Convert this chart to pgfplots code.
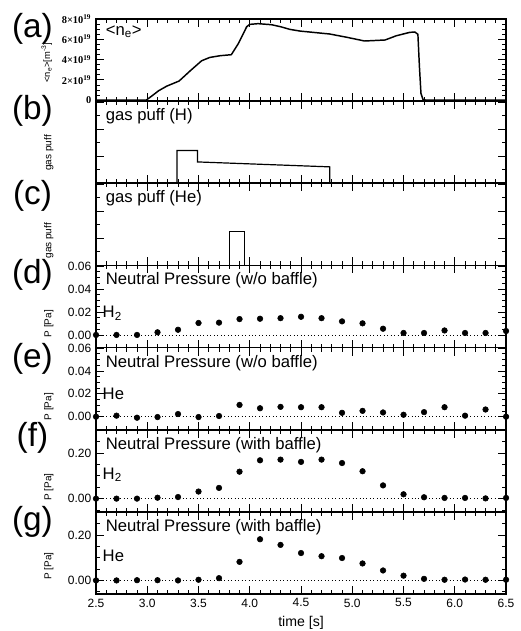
\documentclass[border=0pt]{standalone}
\usepackage{fontspec}
\setmainfont{Liberation Sans}
\newfontfamily\serifb{Liberation Serif}
\usepackage{pgfplots}
\pgfplotsset{compat=1.18}
\usepgfplotslibrary{groupplots}

\newcommand\tl{\serifb\bfseries\fontsize{7.8}{8}\selectfont}
\tikzset{
  plab/.style={font=\fontsize{25}{27}\selectfont},
  intxt/.style={anchor=north west, inner sep=1pt, font=\fontsize{12.5}{14}\selectfont},
  gtxt/.style={anchor=west, inner sep=1pt, font=\fontsize{12.5}{14}\selectfont},
}

\begin{document}
\begin{tikzpicture}
\begin{groupplot}[
  group style={group name=G, group size=1 by 7, vertical sep=0pt, xticklabels at=edge bottom},
  width=307.5pt, height=61.6pt, scale only axis,
  clip mode=individual,
  xmin=2.5, xmax=6.5,
  xtick={2.5,3.0,...,6.5}, minor x tick num=4,
  tick align=inside,
  major tick length=6pt, minor tick length=3pt,
  axis line style={line width=1.3pt},
  every tick/.style={black, line width=0.6pt},
  tick label style={font=\fontsize{9}{10}\selectfont},
  /pgf/number format/assume math mode=true,
  xticklabel style={/pgf/number format/.cd, fixed, fixed zerofill, precision=1},
  yticklabel style={/pgf/number format/.cd, fixed, fixed zerofill, precision=2},
  scaled y ticks=false,
  ylabel style={font=\fontsize{7.5}{8}\selectfont, anchor=center},
  xlabel style={font=\fontsize{10.6}{12}\selectfont},
]

% (a) line-averaged density, in 1e19 m^-3
\nextgroupplot[ymin=-0.1, ymax=8, ytick={0,2,4,6,8},
  yticklabels={{\tl 0},{\tl 2×10\textsuperscript{19}},{\tl 4×10\textsuperscript{19}},{\tl 6×10\textsuperscript{19}},{\tl 8×10\textsuperscript{19}}},
  minor y tick num=3,
  ylabel={<n\textsubscript{e}>[m\textsuperscript{-3}]},
  ylabel style={font=\fontsize{7}{8}\selectfont, at={(rel axis cs:-0.12,0.47)}}]
\addplot[black, line width=1.1pt] coordinates {
(2.5,0) (2.99,0) (3.05,0.45) (3.11,0.92) (3.19,1.38) (3.31,1.88) (3.42,2.90)
(3.53,3.88) (3.61,4.21) (3.71,4.38) (3.82,4.48) (3.89,5.6) (3.97,7.24)
(4.0,7.47) (4.08,7.54) (4.21,7.44) (4.30,7.24) (4.39,6.98) (4.49,6.81)
(4.78,6.52) (4.95,6.19) (5.12,5.83) (5.32,5.93) (5.43,6.35) (5.56,6.68)
(5.61,6.72) (5.64,6.49) (5.655,3.3) (5.67,0.66) (5.69,0.05) (5.72,0) (6.5,0)};
\node[plab] at (rel axis cs:-0.155,0.88) {(a)};
\node[intxt] at (rel axis cs:0.02,0.94) {<n\textsubscript{e}>};
\coordinate (TL) at (rel axis cs:0,1);

% (b) gas puff H
\nextgroupplot[ymin=0, ymax=1, ytick={0,0.33,0.66,0.99}, yticklabels={}, minor y tick num=1,
  ylabel={gas puff}, ylabel style={at={(rel axis cs:-0.115,0.37)}}]
\addplot[black, line width=0.9pt] coordinates {
(2.5,0) (3.29,0) (3.29,0.40) (3.49,0.40) (3.49,0.26) (4.78,0.20) (4.78,0) (6.5,0)};
\node[plab] at (rel axis cs:-0.155,0.88) {(b)};
\node[intxt] at (rel axis cs:0.02,0.93) {gas puff (H)};

% (c) gas puff He
\nextgroupplot[ymin=0, ymax=1, ytick={0,0.33,0.66,0.99}, yticklabels={}, minor y tick num=1,
  ylabel={gas puff}, ylabel style={at={(rel axis cs:-0.115,0.30)}}]
\addplot[black, line width=0.9pt] coordinates {
(2.5,0) (3.80,0) (3.80,0.41) (3.95,0.41) (3.95,0) (6.5,0)};
\node[plab] at (rel axis cs:-0.155,0.85) {(c)};
\node[intxt] at (rel axis cs:0.02,0.93) {gas puff (He)};

% (d) neutral pressure w/o baffle, H2
\nextgroupplot[ymin=-0.011, ymax=0.0605, ytick={0,0.02,0.04,0.06}, minor y tick num=3,
  ylabel={P [Pa]}, ylabel style={at={(rel axis cs:-0.115,0.29)}}]
\addplot[black, dotted, line width=0.6pt] coordinates {(2.5,0) (6.5,0)};
\addplot[only marks, mark=*, mark size=2.1pt, black] coordinates {
(2.5,0.000) (2.7,0.000) (2.9,0.000) (3.1,0.0023) (3.3,0.0045) (3.5,0.0104)
(3.7,0.0107) (3.9,0.0138) (4.1,0.0141) (4.3,0.0146) (4.5,0.0158) (4.7,0.0146)
(4.9,0.0118) (5.1,0.0101) (5.3,0.0054) (5.5,0.0017) (5.7,0.0017) (5.9,0.0039)
(6.1,0.0017) (6.3,0.0017) (6.5,0.0034)};
\node[plab] at (rel axis cs:-0.155,0.88) {(d)};
\node[intxt] at (rel axis cs:0.02,0.93) {Neutral Pressure (w/o baffle)};
\node[gtxt] at (axis cs:2.55,0.019) {H\textsubscript{2}};

% (e) neutral pressure w/o baffle, He
\nextgroupplot[ymin=-0.0114, ymax=0.0605, ytick={0,0.02,0.04,0.06}, minor y tick num=3,
  ylabel={P [Pa]}, ylabel style={at={(rel axis cs:-0.115,0.28)}}]
\addplot[black, dotted, line width=0.6pt] coordinates {(2.5,0) (6.5,0)};
\addplot[only marks, mark=*, mark size=2.1pt, black] coordinates {
(2.5,0.000) (2.7,0.0009) (2.9,-0.0009) (3.1,-0.0003) (3.3,0.0023) (3.5,-0.0003)
(3.7,0.0006) (3.9,0.0103) (4.1,0.0074) (4.3,0.0086) (4.5,0.0083) (4.7,0.0083)
(4.9,0.0034) (5.1,0.0051) (5.3,0.0037) (5.5,0.0017) (5.7,0.0040) (5.9,0.0083)
(6.1,0.0009) (6.3,0.0063) (6.5,0.000)};
\node[plab] at (rel axis cs:-0.155,0.86) {(e)};
\node[intxt] at (rel axis cs:0.02,0.93) {Neutral Pressure (w/o baffle)};
\node[gtxt] at (axis cs:2.55,0.02) {He};

% (f) neutral pressure with baffle, H2
\nextgroupplot[ymin=-0.058, ymax=0.302, ytick={0,0.2}, minor ytick={-0.05,0.05,0.1,0.15,0.25,0.3},
  ylabel={P [Pa]}, ylabel style={at={(rel axis cs:-0.115,0.30)}}]
\addplot[black, dotted, line width=0.6pt] coordinates {(2.5,0) (6.5,0)};
\addplot[only marks, mark=*, mark size=2.1pt, black] coordinates {
(2.5,0.000) (2.7,0.000) (2.9,0.000) (3.1,0.004) (3.3,0.007) (3.5,0.031)
(3.7,0.047) (3.9,0.118) (4.1,0.168) (4.3,0.171) (4.5,0.161) (4.7,0.171)
(4.9,0.156) (5.1,0.120) (5.3,0.058) (5.5,0.019) (5.7,0.006) (5.9,0.003)
(6.1,0.003) (6.3,0.001) (6.5,0.003)};
\node[plab] at (rel axis cs:-0.155,0.9) {(f)};
\node[intxt] at (rel axis cs:0.02,0.93) {Neutral Pressure (with baffle)};
\node[gtxt] at (axis cs:2.55,0.105) {H\textsubscript{2}};

% (g) neutral pressure with baffle, He
\nextgroupplot[ymin=-0.06, ymax=0.303, ytick={0,0.2}, minor ytick={-0.05,0.05,0.1,0.15,0.25,0.3},
  ylabel={P [Pa]}, ylabel style={at={(rel axis cs:-0.115,0.34)}},
  xlabel={time [s]}]
\addplot[black, dotted, line width=0.6pt] coordinates {(2.5,0) (6.5,0)};
\addplot[only marks, mark=*, mark size=2.1pt, black] coordinates {
(2.5,0.000) (2.7,0.000) (2.9,0.001) (3.1,0.001) (3.3,0.000) (3.5,0.003)
(3.7,0.010) (3.9,0.082) (4.1,0.182) (4.3,0.157) (4.5,0.121) (4.7,0.107)
(4.9,0.099) (5.1,0.075) (5.3,0.044) (5.5,0.021) (5.7,0.007) (5.9,0.003)
(6.1,0.004) (6.3,0.003) (6.5,0.003)};
\node[plab] at (rel axis cs:-0.155,0.88) {(g)};
\node[intxt] at (rel axis cs:0.02,0.93) {Neutral Pressure (with baffle)};
\node[gtxt] at (axis cs:2.55,0.107) {He};
\coordinate (BR) at (rel axis cs:1,0);
\end{groupplot}
\pgfresetboundingbox
\useasboundingbox ([shift={(-72pt,14.25pt)}]TL) rectangle ([shift={(10.5pt,-27.75pt)}]BR);
\end{tikzpicture}
\end{document}
